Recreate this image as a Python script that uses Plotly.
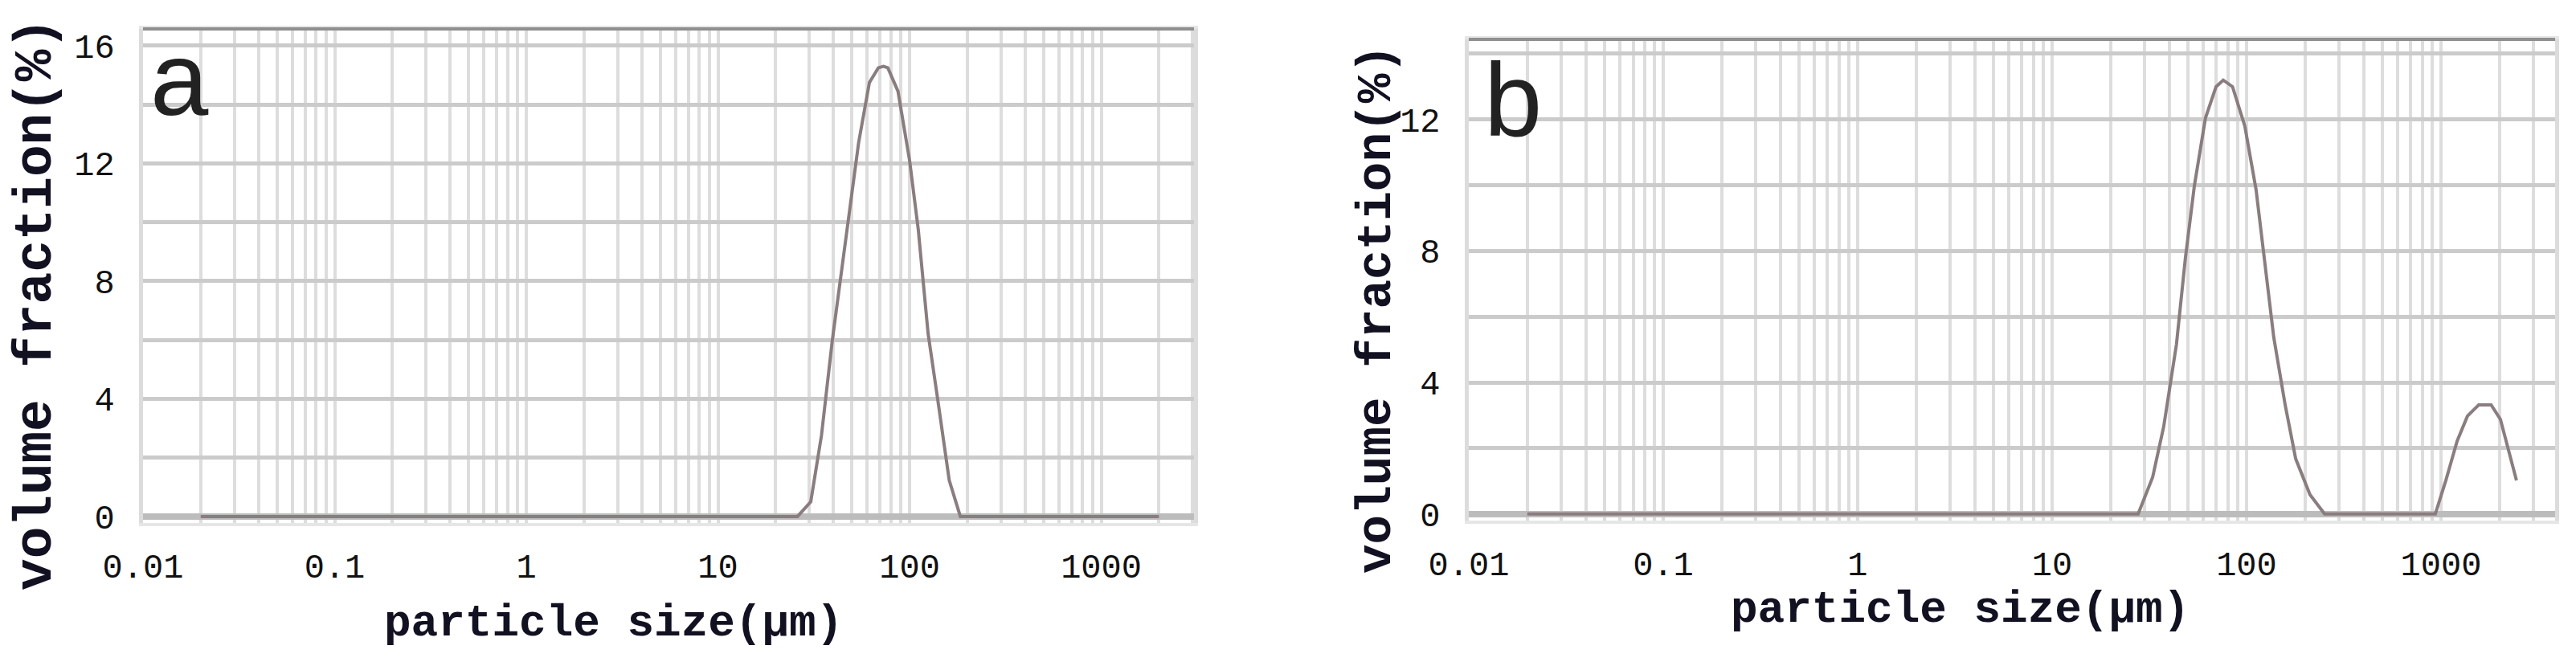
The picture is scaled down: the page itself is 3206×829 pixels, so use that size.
import numpy as np
import plotly.graph_objects as go

# particle size distribution
size_a = [0.02, 26, 30.5, 34.7, 39.5, 47.5, 54.2, 61.7, 68.7, 73, 77, 87, 100, 111, 125, 139, 161, 184, 2000]
vol_a = [0, 0, 0.5, 2.76, 5.98, 10.0, 12.7, 14.75, 15.25, 15.3, 15.25, 14.45, 12.1, 9.75, 6.2, 4.15, 1.23, 0, 0]

size_b = [0.02, 27.7, 32.9, 37.5, 43.6, 48.5, 53.9, 61.5, 69.7, 75.9, 84.7, 98, 112, 124.5, 138, 158, 179, 212, 252,
          935, 1059, 1211, 1368, 1563, 1811, 2022, 2244, 2445]
vol_b = [0, 0, 1.12, 2.66, 5.16, 7.8, 9.98, 12.05, 13.0, 13.2, 13.0, 11.8, 9.86, 7.57, 5.38, 3.32, 1.68, 0.59, 0,
         0, 1.02, 2.22, 2.98, 3.32, 3.32, 2.88, 1.9, 1.02]

x_labels = ["0.01", "0.1", "1", "10", "100", "1000"]
y_labels_a = ["0", "4", "8", "12", "16"]
y_labels_b = ["0", "4", "8", "12"]

# log grid: 1..9 per decade, text only on the decades
x_tickvals = []
x_ticktext = []
for i, d in enumerate(range(-2, 4)):
    for m in range(1, 10):
        x_tickvals.append(m * 10.0 ** d)
        x_ticktext.append(x_labels[i] if m == 1 else "")

def y_ticks(labels, top):
    vals = list(range(0, top + 1, 2))
    text = [labels[v // 4] if v % 4 == 0 else "" for v in vals]
    return vals, text

yv_a, yt_a = y_ticks(y_labels_a, 16)
yv_b, yt_b = y_ticks(y_labels_b, 14)

line_col = "#8a7d7f"
tick_font = dict(family="Liberation Mono", size=42, color="#111111")
title_font = dict(family="Liberation Mono", size=56, color="#111122", weight="bold")

fig = go.Figure()
fig.add_trace(go.Scatter(x=size_a, y=vol_a, mode="lines", line=dict(color=line_col, width=4),
                         xaxis="x", yaxis="y", showlegend=False))
fig.add_trace(go.Scatter(x=size_b, y=vol_b, mode="lines", line=dict(color=line_col, width=4),
                         xaxis="x2", yaxis="y2", showlegend=False))

xaxis_common = dict(type="log", tickmode="array", tickvals=x_tickvals, ticktext=x_ticktext, automargin=False,
                    showgrid=True, gridcolor="#dddddd", gridwidth=4,
                    ticks="outside", ticklen=14, tickcolor="rgba(0,0,0,0)", tickfont=tick_font,
                    showline=True, mirror=True, linecolor="#e6e6e6", linewidth=4, zeroline=False)
yaxis_common = dict(tickmode="array", showgrid=True, gridcolor="#cbcbcb", gridwidth=5, automargin=False,
                    ticks="outside", ticklen=22, tickcolor="rgba(0,0,0,0)", tickfont=tick_font,
                    showline=True, mirror=True, linecolor="#dcdcdc", linewidth=5,
                    zeroline=True, zerolinecolor="#bcbcbc", zerolinewidth=8)

# page body has an 8px margin, so the figure is a bit smaller than the window
fig.update_layout(
    template="none",
    width=3190, height=813,
    margin=dict(l=0, r=0, t=0, b=0, autoexpand=False),
    paper_bgcolor="white", plot_bgcolor="white",
    xaxis=dict(xaxis_common, domain=[0.05329, 0.46332], range=[-2, 3.484], anchor="y"),
    yaxis=dict(yaxis_common, domain=[0.20910, 0.96556], range=[-0.22, 16.57], tickvals=yv_a, ticktext=yt_a, anchor="x"),
    xaxis2=dict(xaxis_common, domain=[0.57053, 0.99436], range=[-2, 3.587], anchor="y2"),
    yaxis2=dict(yaxis_common, domain=[0.21279, 0.94957], range=[-0.2, 14.44], tickvals=yv_b, ticktext=yt_b, anchor="x2"),
)

# darker top frame line like the instrument plot
for xr, yr in [("x domain", "y domain"), ("x2 domain", "y2 domain")]:
    fig.add_shape(type="line", xref=xr, yref=yr, x0=0, x1=1, y0=1, y1=1,
                  line=dict(color="#8f8f8f", width=4))

# axis titles
fig.add_annotation(text="volume fraction(%)", textangle=-90, x=0.01191, y=0.5450, xref="paper", yref="paper",
                   xanchor="center", yanchor="middle", showarrow=False, font=dict(title_font, size=66))
fig.add_annotation(text="volume fraction(%)", textangle=-90, x=0.53480, y=0.53629, xref="paper", yref="paper",
                   xanchor="center", yanchor="middle", showarrow=False, font=dict(title_font, size=61))
fig.add_annotation(text="particle size(μm)", x=0.23699, y=0.05535, xref="paper", yref="paper",
                   xanchor="center", yanchor="middle", showarrow=False, font=title_font)
fig.add_annotation(text="particle size(μm)", x=0.76238, y=0.0765, xref="paper", yref="paper",
                   xanchor="center", yanchor="middle", showarrow=False, font=title_font)

# panel letters
fig.add_annotation(text="a", x=0.05549, y=0.8899, xref="paper", yref="paper", xanchor="left", yanchor="middle",
                   showarrow=False, font=dict(family="Liberation Sans", size=130, color="#222222"))
fig.add_annotation(text="b", x=0.57586, y=0.8579, xref="paper", yref="paper", xanchor="left", yanchor="middle",
                   showarrow=False, font=dict(family="Liberation Sans", size=130, color="#222222"))

fig.write_html("out.html")
